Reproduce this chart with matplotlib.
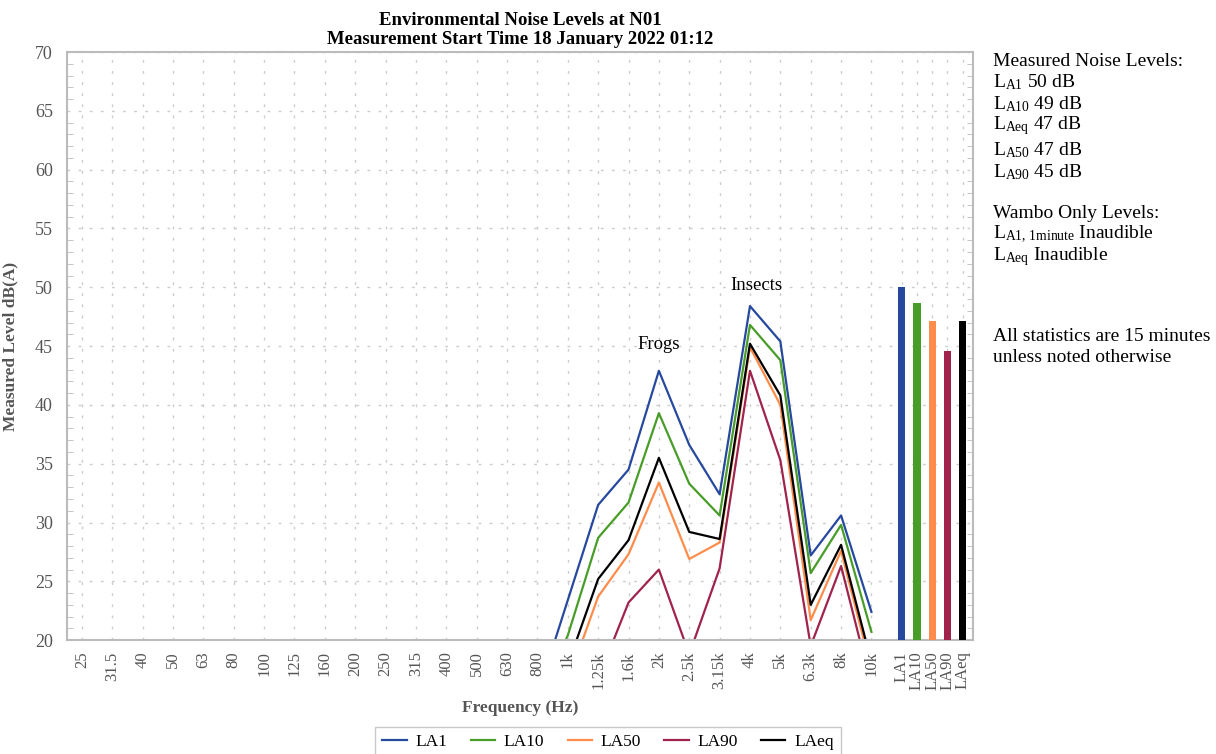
import matplotlib
matplotlib.use("Agg")
import matplotlib.pyplot as plt
import numpy as np

plt.rcParams['font.family'] = ['Liberation Serif', 'DejaVu Serif']
plt.rcParams['mathtext.fontset'] = 'custom'
plt.rcParams['mathtext.rm'] = 'Liberation Serif'
plt.rcParams['mathtext.it'] = 'Liberation Serif:italic'

# one-third octave bands
bands = ["25", "31.5", "40", "50", "63", "80", "100", "125", "160", "200",
         "250", "315", "400", "500", "630", "800", "1k", "1.25k", "1.6k", "2k",
         "2.5k", "3.15k", "4k", "5k", "6.3k", "8k", "10k"]

# spectra in dB(A), values below 20 are off the chart
la1 = [8, 9, 10, 11, 11, 12, 12, 13, 13, 13, 14, 14, 14, 15, 15, 15.3, 23.4, 31.5, 34.5,
       42.9, 36.6, 32.4, 48.4, 45.4, 27.2, 30.6, 22.4]
la10 = [7, 8, 9, 10, 10, 11, 11, 12, 12, 12, 13, 13, 13, 14, 14, 14.5, 20.4, 28.7, 31.7,
        39.3, 33.3, 30.6, 46.8, 43.8, 25.7, 29.8, 20.7]
la50 = [5, 6, 7, 8, 8, 9, 9, 10, 10, 10, 11, 11, 11, 12, 12, 12.5, 16.5, 23.7, 27.3,
        33.4, 26.9, 28.3, 44.9, 40.0, 21.7, 27.6, 17.5]
la90 = [4, 5, 6, 7, 7, 8, 8, 9, 9, 9, 10, 10, 10, 11, 11, 11.5, 13.5, 16.7, 23.2,
        26.0, 18.8, 26.1, 42.9, 35.3, 19.5, 26.3, 16.1]
laeq = [6, 7, 8, 9, 9, 10, 10, 11, 11, 11, 12, 12, 12, 13, 13, 13.5, 17.9, 25.2, 28.5,
        35.5, 29.2, 28.6, 45.2, 40.8, 23.0, 28.1, 18.1]

# overall levels
stat_names = ["LA1", "LA10", "LA50", "LA90", "LAeq"]
stat_values = [50.0, 48.7, 47.1, 44.6, 47.1]

colors = ["#26499e", "#489c28", "#ff8c4a", "#a0234b", "#000000"]
series = [la1, la10, la50, la90, laeq]

fig = plt.figure(figsize=(12.16, 7.54), dpi=100)
ax = fig.add_axes([0.0549, 0.151, 0.7454, 0.780])

x = np.arange(len(bands))
for vals, name, c in zip(series, stat_names, colors):
    ax.plot(x, vals, color=c, lw=1.6, label=name)

bx = len(bands) + 0.5 * np.arange(len(stat_names))
ax.bar(bx, stat_values, width=0.24, color=colors, zorder=3)

ax.set_xlim(-0.5, 29.35)
ax.set_ylim(20, 70)

ax.set_xticks(list(x) + list(bx))
ax.set_xticklabels(bands + stat_names, rotation=90, fontsize=12, color="#555555")
ax.tick_params(axis='x', length=0, pad=8)

ax.set_yticks(np.arange(20, 71, 5))
ax.set_yticks(np.arange(20, 71, 1), minor=True)
ax.tick_params(axis='y', which='major', length=0, labelsize=13, labelcolor="#555555", pad=10)
ax.tick_params(axis='y', which='minor', direction='in', length=4, color="#bbbbbb",
               left=True, right=True)

ax.grid(True, axis='x', color="#cccccc", linestyle=(0, (2, 6)), lw=1)
ax.grid(True, axis='y', which='major', color="#cccccc", linestyle=(0, (2, 6)), lw=1)
ax.set_axisbelow(True)

for s in ax.spines.values():
    s.set_color("#bbbbbb")
    s.set_linewidth(1.5)

ax.set_xlabel("Frequency (Hz)", fontsize=12.5, fontweight='bold', color="#555555", labelpad=7)
ax.set_ylabel("Measured Level dB(A)", fontsize=12.5, fontweight='bold', color="#555555", labelpad=12)
ax.set_title("Environmental Noise Levels at N01\nMeasurement Start Time 18 January 2022 01:12",
             fontsize=13.5, fontweight='bold', linespacing=1.1, pad=6)

ax.text(19, 44.4, "Frogs", fontsize=13.5, ha='center', va='bottom')
ax.text(22.2, 49.4, "Insects", fontsize=13.5, ha='center', va='bottom')

# side notes
notes = [
    (61, "Measured Noise Levels:"),
    (82, r"L$_{\mathrm{A1}}$ 50 dB"),
    (104, r"L$_{\mathrm{A10}}$ 49 dB"),
    (126, r"L$_{\mathrm{Aeq}}$ 47 dB"),
    (150, r"L$_{\mathrm{A50}}$ 47 dB"),
    (172, r"L$_{\mathrm{A90}}$ 45 dB"),
    (213, "Wambo Only Levels:"),
    (234, r"L$_{\mathrm{A1,\,1minute}}$ Inaudible"),
    (257, r"L$_{\mathrm{Aeq}}$ Inaudible"),
    (337, "All statistics are 15 minutes"),
    (357, "unless noted otherwise"),
]
for ypix, txt in notes:
    fig.text(993 / 1216, 1 - ypix / 754, txt, fontsize=14, ha='left', va='center')

leg = fig.legend(loc='lower center', bbox_to_anchor=(0.5, -0.016), ncol=5, fontsize=12.5,
                 frameon=True, fancybox=False, edgecolor="#bbbbbb", handlelength=1.4,
                 handletextpad=0.5, columnspacing=1.35)
leg.get_frame().set_linewidth(1.0)

fig.savefig("out.png", dpi=100)
